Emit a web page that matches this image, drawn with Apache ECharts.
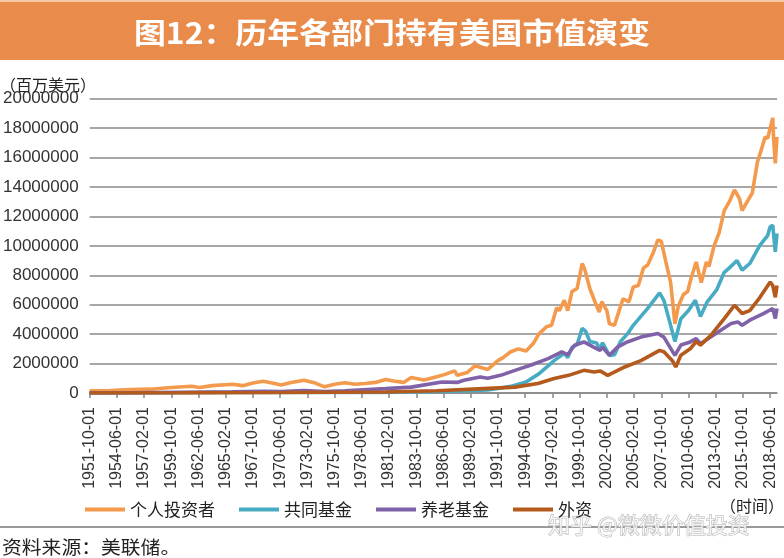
<!DOCTYPE html>
<html><head><meta charset="utf-8">
<script src="https://cdn.jsdelivr.net/npm/echarts@6/dist/echarts.min.js"></script>
<style>html,body{margin:0;padding:0;background:#fff}#c{width:784px;height:558px}</style>
</head><body><div id="c"></div>
<script>
// x categories: monthly, 1951-10-01 .. 2019-02-01
const startYear = 1951, startMonth = 10, monthCount = 809;
const categories = [];
for (let i = 0; i < monthCount; i++) {
  const t = (startMonth - 1) + i;
  const y = startYear + Math.floor(t / 12), m = (t % 12) + 1;
  categories.push(y + '-' + (m < 10 ? '0' + m : m) + '-01');
}
const yTicks = [0, 2000000, 4000000, 6000000, 8000000, 10000000, 12000000, 14000000, 16000000, 18000000, 20000000];
const seriesNames = ['个人投资者', '共同基金', '养老基金', '外资'];

// values in 百万美元, [date, value]
const individual = [
 ['1951-10-01',150000],['1953-10-01',170000],['1955-10-01',240000],['1957-10-01',260000],['1959-10-01',370000],
 ['1961-10-01',460000],['1962-07-01',380000],['1963-10-01',500000],['1965-10-01',600000],['1966-10-01',500000],
 ['1967-10-01',680000],['1968-10-01',800000],['1969-10-01',660000],['1970-07-01',550000],['1971-07-01',720000],
 ['1972-10-01',860000],['1973-10-01',700000],['1974-10-01',420000],['1975-10-01',600000],['1976-10-01',700000],
 ['1977-10-01',600000],['1978-10-01',650000],['1979-10-01',720000],['1980-10-01',920000],['1981-07-01',820000],
 ['1982-07-01',720000],['1983-04-01',1050000],['1984-07-01',880000],['1985-10-01',1100000],['1986-07-01',1250000],
 ['1987-07-01',1500000],['1987-10-01',1200000],['1988-10-01',1400000],['1989-07-01',1850000],['1990-10-01',1600000],
 ['1991-10-01',2200000],['1992-04-01',2400000],['1993-01-01',2800000],['1993-10-01',3000000],['1994-07-01',2850000],
 ['1995-04-01',3400000],['1995-10-01',4000000],['1996-07-01',4500000],['1997-01-01',4600000],['1997-07-01',5800000],
 ['1997-10-01',5600000],['1998-04-01',6300000],['1998-08-01',5600000],['1999-01-01',6900000],['1999-07-01',7100000],
 ['2000-01-01',8800000],['2000-04-01',8400000],['2000-10-01',7100000],['2001-04-01',6200000],['2001-09-01',5500000],
 ['2001-12-01',6200000],['2002-06-01',5600000],['2002-09-01',4700000],['2003-03-01',4600000],['2003-09-01',5700000],
 ['2004-01-01',6400000],['2004-08-01',6200000],['2005-01-01',7200000],['2005-07-01',7300000],['2006-01-01',8500000],
 ['2006-06-01',8700000],['2007-01-01',9600000],['2007-06-01',10400000],['2007-10-01',10300000],['2008-03-01',9000000],
 ['2008-09-01',7500000],['2009-02-01',4700000],['2009-06-01',5900000],['2009-12-01',6700000],['2010-05-01',6900000],
 ['2010-09-01',7800000],['2011-03-01',8900000],['2011-09-01',7500000],['2012-03-01',8900000],['2012-06-01',8600000],
 ['2012-12-01',10000000],['2013-06-01',10900000],['2013-12-01',12400000],['2014-06-01',13000000],['2014-12-01',13800000],
 ['2015-06-01',13200000],['2015-09-01',12400000],['2016-03-01',13000000],['2016-09-01',13600000],['2017-03-01',15700000],
 ['2017-09-01',16800000],['2017-12-01',17400000],['2018-03-01',17300000],['2018-09-01',18700000],['2018-10-01',17300000],
 ['2018-12-01',15600000],['2019-02-01',17400000]
];
const mutualFunds = [
 ['1951-10-01',3000],['1960-10-01',20000],['1968-10-01',40000],['1972-10-01',50000],['1974-10-01',30000],
 ['1980-10-01',40000],['1985-10-01',100000],['1988-10-01',150000],['1990-10-01',200000],['1991-10-01',300000],
 ['1993-01-01',450000],['1994-07-01',750000],['1995-10-01',1300000],['1997-04-01',2200000],['1998-04-01',2700000],
 ['1998-08-01',2400000],['1999-01-01',3100000],['1999-07-01',3300000],['2000-01-01',4400000],['2000-05-01',4200000],
 ['2000-10-01',3500000],['2001-06-01',3400000],['2001-09-01',3000000],['2002-01-01',3400000],['2002-09-01',2550000],
 ['2003-03-01',2600000],['2003-10-01',3500000],['2004-06-01',4000000],['2005-01-01',4600000],['2006-06-01',5750000],
 ['2007-08-01',6800000],['2008-01-01',6300000],['2008-08-01',4800000],['2009-02-01',3500000],['2009-09-01',5050000],
 ['2010-06-01',5600000],['2011-02-01',6300000],['2011-08-01',5200000],['2012-04-01',6200000],['2013-03-01',7000000],
 ['2013-12-01',8200000],['2014-06-01',8500000],['2015-03-01',9000000],['2015-09-01',8350000],['2016-06-01',8800000],
 ['2017-06-01',10050000],['2018-03-01',10700000],['2018-06-01',11300000],['2018-09-01',11400000],['2018-12-01',9600000],
 ['2019-02-01',10850000]
];
const pensionFunds = [
 ['1951-10-01',10000],['1955-10-01',20000],['1960-10-01',50000],['1965-10-01',80000],['1968-10-01',120000],
 ['1970-07-01',100000],['1972-10-01',170000],['1974-10-01',100000],['1976-10-01',150000],['1980-10-01',300000],
 ['1983-04-01',400000],['1986-04-01',750000],['1987-10-01',720000],['1988-06-01',860000],['1990-01-01',1090000],
 ['1990-10-01',1000000],['1992-01-01',1200000],['1993-06-01',1540000],['1995-01-01',1900000],['1996-09-01',2340000],
 ['1998-01-01',2800000],['1998-08-01',2600000],['1999-04-01',3250000],['2000-03-01',3470000],['2001-03-01',3100000],
 ['2001-10-01',2900000],['2002-01-01',3100000],['2002-09-01',2560000],['2003-06-01',3100000],['2004-06-01',3470000],
 ['2005-10-01',3800000],['2007-06-01',4040000],['2008-01-01',3800000],['2009-02-01',2560000],['2009-09-01',3260000],
 ['2010-08-01',3470000],['2011-03-01',3700000],['2011-08-01',3350000],['2012-08-01',3800000],['2013-08-01',4270000],
 ['2014-08-01',4720000],['2015-04-01',4830000],['2015-09-01',4600000],['2016-06-01',4950000],['2017-10-01',5400000],
 ['2018-09-01',5740000],['2018-12-01',5060000],['2019-02-01',5740000]
];
const foreign = [
 ['1951-10-01',3000],['1960-10-01',10000],['1970-10-01',30000],['1980-10-01',70000],['1985-10-01',150000],
 ['1990-05-01',300000],['1993-06-01',400000],['1995-09-01',640000],['1997-04-01',980000],['1998-09-01',1200000],
 ['2000-03-01',1540000],['2001-03-01',1430000],['2001-10-01',1500000],['2002-07-01',1200000],['2004-03-01',1770000],
 ['2005-10-01',2200000],['2007-08-01',2900000],['2008-01-01',2800000],['2008-11-01',2200000],['2009-03-01',1770000],
 ['2009-09-01',2560000],['2010-08-01',3000000],['2011-03-01',3500000],['2011-08-01',3250000],['2012-08-01',3900000],
 ['2013-12-01',5060000],['2014-12-01',5960000],['2015-09-01',5400000],['2016-06-01',5600000],['2017-06-01',6500000],
 ['2018-06-01',7550000],['2018-09-01',7300000],['2018-12-01',6500000],['2019-02-01',7300000]
];
const seriesData = [individual, mutualFunds, pensionFunds, foreign];
const colors = ['#F39A4C', '#48ABC4', '#7F62A8', '#B45A1C'];

const chart = echarts.init(document.getElementById('c'), null, {renderer: 'canvas'});
chart.setOption({
  animation: false,
  backgroundColor: '#fff',
  color: colors,
  grid: {left: 84, right: 7, top: 98.7, bottom: 165, containLabel: false},
  legend: {
    data: seriesNames, left: 80, top: 496, icon: 'rect', itemWidth: 40, itemHeight: 4, itemGap: 24,
    textStyle: {fontSize: 17, color: '#222', fontFamily: 'Noto Sans CJK SC'}
  },
  xAxis: {
    type: 'category', data: categories, boundaryGap: false,
    axisLine: {lineStyle: {color: '#888', width: 1.5}},
    axisTick: {interval: 31, length: 5, lineStyle: {color: '#888', width: 1.5}},
    axisLabel: {interval: 31, rotate: 90, margin: 14, fontSize: 16, color: '#333', fontFamily: 'Liberation Sans'}
  },
  yAxis: {
    type: 'value', min: yTicks[0], max: yTicks[yTicks.length - 1], interval: yTicks[1] - yTicks[0],
    axisLine: {show: false}, axisTick: {show: false},
    axisLabel: {fontSize: 17, color: '#333', margin: 11, fontFamily: 'Liberation Sans',
      formatter: v => String(v)},
    splitLine: {lineStyle: {color: '#8a8a8a', width: 1.5}}
  },
  series: seriesNames.map((n, i) => ({
    name: n, type: 'line', data: seriesData[i], showSymbol: false, symbol: 'none',
    lineStyle: {width: 3.6, color: colors[i]}, itemStyle: {color: colors[i]}
  })),
  graphic: [
    {type: 'rect', left: 0, top: 0, shape: {width: 784, height: 60}, style: {fill: '#E98C4B'}},
    {type: 'rect', left: 0, top: 0, shape: {width: 784, height: 2}, style: {fill: '#F6C9A4'}},
    {type: 'text', x: 392, y: 33, scaleX: 1.1,
      style: {text: '图12：历年各部门持有美国市值演变', fill: '#fff', fontSize: 29, fontWeight: 'bold',
        fontFamily: 'Noto Sans CJK SC', align: 'center', verticalAlign: 'middle'}},
    {type: 'text', x: 0, y: 85,
      style: {text: '（百万美元）', fill: '#222', fontSize: 16, fontFamily: 'Noto Sans CJK SC', align: 'left', verticalAlign: 'middle'}},
    {type: 'text', x: 720, y: 506,
      style: {text: '（时间）', fill: '#222', fontSize: 16, fontFamily: 'Noto Sans CJK SC', align: 'left', verticalAlign: 'middle'}},
    {type: 'line', shape: {x1: 0, y1: 527, x2: 784, y2: 527}, style: {stroke: '#999', lineWidth: 2}},
    {type: 'text', x: 548, y: 525,
      style: {text: '知乎 @微微价值投资', fill: 'rgba(255,255,255,0.75)', stroke: '#b5b5b5', lineWidth: 1,
        fontSize: 22, fontFamily: 'Noto Sans CJK SC', align: 'left', verticalAlign: 'middle'}},
    {type: 'text', x: 2, y: 547, scaleX: 1.1,
      style: {text: '资料来源：美联储。', fill: '#222', fontSize: 18, fontFamily: 'Noto Sans CJK SC', align: 'left', verticalAlign: 'middle'}}
  ]
});
</script></body></html>
